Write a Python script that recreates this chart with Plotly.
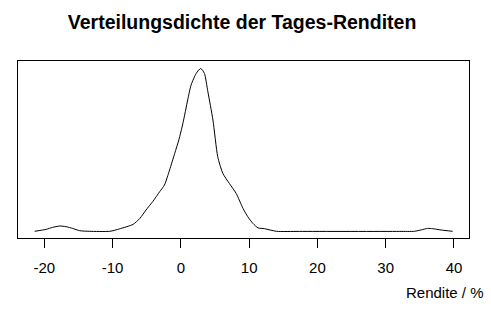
import plotly.graph_objects as go

# Return (%) and estimated density values
rendite = [-21.4, -19.7, -18.8, -17.75, -16.8, -15.85, -14.8, -13.4, -10.4, -9.0,
           -7.0, -6.0, -5.1, -4.1, -3.1, -2.4, -1.65, -0.9, -0.3, 0.3,
           1.0, 1.5, 2.25, 2.9, 3.45, 3.95, 4.7, 5.4, 6.15, 7.1,
           8.1, 9.1, 9.8, 10.55, 11.3, 12.25, 14.0, 17.4, 32.0, 34.2,
           35.2, 36.15, 36.9, 38.1, 39.8]
dichte_px = [0.1, 2.1, 4.0, 5.4, 4.7, 3.0, 0.7, 0.1, 0.1, 2.5,
             7.0, 13.0, 21.4, 30.0, 39.7, 46.4, 61.4, 78.0, 91.4, 108.0,
             131.4, 146.4, 158.0, 163.0, 158.0, 140.0, 111.4, 74.7, 58.0, 48.0,
             38.0, 23.0, 14.7, 8.0, 3.5, 2.7, 0.1, 0.0, 0.0, 0.1,
             1.5, 3.0, 2.7, 1.4, 0.1]
scale = 0.0007
dichte = [v * scale for v in dichte_px]

tick_vals = [-20, -10, 0, 10, 20, 30, 40]
tick_text = ["-20", "-10", "0", "10", "20", "30", "40"]

title_text = "Verteilungsdichte der Tages-Renditen"
x_label = "Rendite / %"

fig = go.Figure()
fig.add_trace(go.Scatter(
    x=rendite, y=dichte, mode="lines",
    line=dict(color="black", width=1, shape="spline", smoothing=0.6),
    hoverinfo="skip", showlegend=False,
))

font_fam = "Arial, Liberation Sans, sans-serif"

fig.update_layout(
    width=491, height=310,
    margin=dict(l=18, r=22, t=61, b=72),
    paper_bgcolor="white", plot_bgcolor="white",
    title=dict(text="<b>" + title_text + "</b>", x=0.493, xanchor="center",
               y=1 - 22 / 310, yanchor="middle", yref="container",
               font=dict(family=font_fam, size=19.5, color="black")),
    xaxis=dict(range=[-23.85, 42.2], tickvals=tick_vals, ticktext=tick_text,
               ticks="outside", ticklen=9, tickwidth=1, tickcolor="black",
               ticklabelstandoff=7,
               showline=True, linecolor="black", linewidth=1, mirror=True,
               showgrid=False, zeroline=False,
               tickfont=dict(family=font_fam, size=15, color="black")),
    yaxis=dict(range=[-0.00462, 0.11928], showticklabels=False, ticks="",
               showline=True, linecolor="black", linewidth=1, mirror=True,
               showgrid=False, zeroline=False),
    annotations=[dict(text=x_label, xref="paper", yref="paper",
                      x=(486 - 18) / 451, y=-(292 - 238) / 177,
                      xanchor="right", yanchor="middle", showarrow=False,
                      font=dict(family=font_fam, size=15, color="black"))],
)

fig.write_html("out.html")
